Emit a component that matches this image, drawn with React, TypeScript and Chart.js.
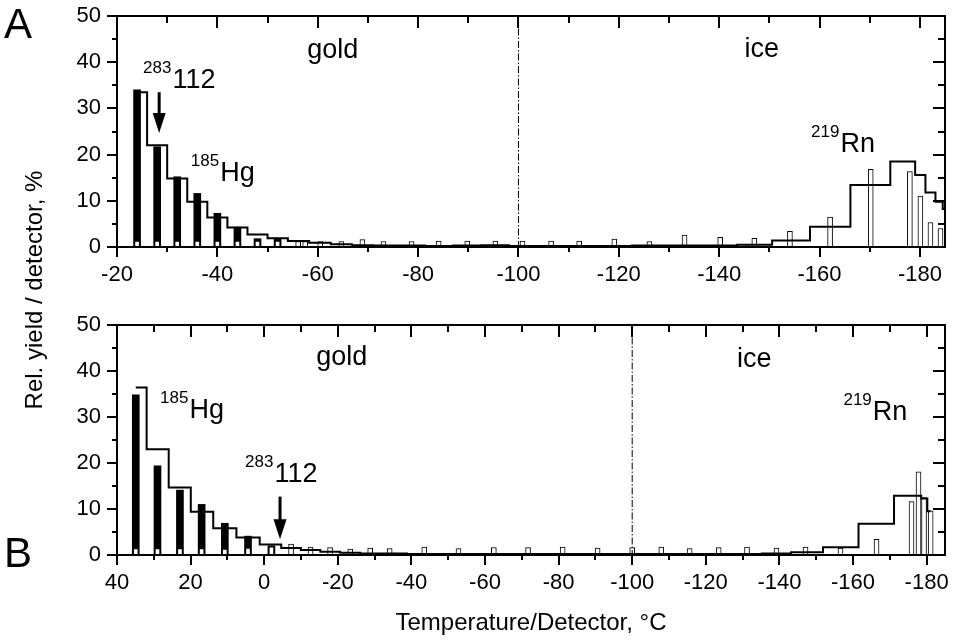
import React, { useEffect, useRef } from "react";
import { Chart, registerables } from "chart.js";

Chart.register(...registerables);

const FONT = '"Liberation Sans", Arial, Helvetica, sans-serif';

// ---------------- Panel A (top) ----------------
const topXTicks = [-20, -40, -60, -80, -100, -120, -140, -160, -180];
const topHgT = [-24, -28, -32, -36, -40, -44, -48, -52];
const topHg = [34, 21.7, 15.2, 11.6, 7.3, 4.3, 1.8, 1.9];
const topRnT = [-24, -28, -32, -36, -40, -44, -48, -52, -56.1, -57.5, -60.5, -64.7, -68.9, -73.1, -78.7, -84.1, -89.8, -95.4, -100.8, -106.5, -112.1, -119.1, -126.1, -133.1, -140.2, -147.0, -154.1, -162.1, -170.2, -178.0, -180.1, -182.1, -184.1];
const topRn = [1.3, 1.3, 1.3, 1.3, 1.3, 1.3, 1.3, 1.3, 1.2, 1.2, 1.2, 1.2, 1.6, 1.2, 1.2, 1.3, 1.3, 1.3, 1.3, 1.3, 1.3, 1.7, 1.2, 2.6, 2.1, 1.9, 3.4, 6.5, 16.8, 16.3, 11.0, 5.3, 4.0];
const topSimT = [-24, -28, -32, -36, -40, -44, -48, -52, -56.1, -60.5, -64.7, -68.9, -73.1, -78.7, -84.1, -89.8, -95.4, -100.8, -106.5, -112.1, -119.1, -126.1, -133.1, -140.2, -147.0, -154.1, -162.1, -170.2, -178.0, -180.1, -182.1, -184.1, -185];
const topSim = [33.5, 22, 14.8, 9.8, 6.4, 4.2, 2.7, 1.9, 1.3, 0.9, 0.6, 0.4, 0.3, 0.3, 0.2, 0.3, 0.4, 0.2, 0.2, 0.2, 0.2, 0.3, 0.3, 0.3, 0.5, 1.4, 4.4, 13.4, 18.5, 15.6, 11.8, 9.8, 8.2];

// ---------------- Panel B (bottom) ----------------
const botXTicks = [40, 20, 0, -20, -40, -60, -80, -100, -120, -140, -160, -180];
const botHgT = [34.9, 29.0, 22.9, 17.0, 10.7, 4.4, -1.96];
const botHg = [34.8, 19.4, 14.1, 11.0, 6.9, 4.1, 2.0];
const botDetT = [34.9, 29.0, 22.9, 17.0, 10.7, 4.4, -1.96, -7.3, -12.6, -17.9, -23.4, -28.8, -34.1, -43.5, -52.8, -62.4, -71.7, -81.1, -90.6, -100, -107.9, -115.6, -123.5, -131.2, -139.2, -147.1, -156.6, -166.4, -175.9, -177.8, -179.3, -181.1];
const botRn = [1.4, 1.4, 1.4, 1.4, 1.3, 1.5, 1.8, 2.4, 1.7, 1.6, 1.3, 1.5, 1.4, 1.7, 1.4, 1.6, 1.6, 1.7, 1.5, 1.6, 1.7, 1.4, 1.6, 1.7, 1.5, 1.7, 1.5, 3.4, 11.6, 18.1, 12.5, 9.6];
const botSim = [36.4, 23.0, 14.7, 9.4, 5.8, 3.8, 2.3, 1.5, 1.1, 0.7, 0.5, 0.3, 0.3, 0.2, 0.2, 0.2, 0.2, 0.2, 0.2, 0.2, 0.2, 0.2, 0.2, 0.2, 0.3, 0.6, 1.7, 6.8, 12.9, 12.9, 12.3, 9.5];

const yTicks = [0, 10, 20, 30, 40, 50];

type Label = { sup?: string; text: string; x: number; y: number; align?: "left" | "center" };
type PanelCfg = {
  xMin: number;
  xMax: number;
  xTicks: number[];
  hgT: number[];
  hg: number[];
  rnT: number[];
  rn: number[];
  simT: number[];
  sim: number[];
  padTop: number;
  padBottom: number;
  labels: Label[];
  arrow: { x: number; y0: number; y1: number };
  panel: { text: string; px: number; py: number };
  titles: boolean;
};

const panelA: PanelCfg = {
  xMin: -185,
  xMax: -20,
  xTicks: topXTicks,
  hgT: topHgT,
  hg: topHg,
  rnT: topRnT,
  rn: topRn,
  simT: topSimT,
  sim: topSim,
  padTop: 16,
  padBottom: 641 - 247 - 40,
  labels: [
    { text: "gold", x: -63, y: 40.9, align: "center" },
    { text: "ice", x: -148.5, y: 41.2, align: "center" },
    { sup: "283", text: "112", x: -25.2, y: 34.4 },
    { sup: "185", text: "Hg", x: -34.7, y: 14.3 },
    { sup: "219", text: "Rn", x: -158.3, y: 20.6 },
  ],
  arrow: { x: -28.4, y0: 33.5, y1: 24.7 },
  panel: { text: "A", px: 4, py: 38 },
  titles: false,
};

const panelB: PanelCfg = {
  xMin: -185,
  xMax: 40,
  xTicks: botXTicks,
  hgT: botHgT,
  hg: botHg,
  rnT: botDetT,
  rn: botRn,
  simT: botDetT,
  sim: botSim,
  padTop: 325,
  padBottom: 641 - 555 - 40,
  labels: [
    { text: "gold", x: -21.1, y: 41.3, align: "center" },
    { text: "ice", x: -133.2, y: 40.9, align: "center" },
    { sup: "185", text: "Hg", x: 28.3, y: 29.8 },
    { sup: "283", text: "112", x: 5.2, y: 15.9 },
    { sup: "219", text: "Rn", x: -157.4, y: 29.3 },
  ],
  arrow: { x: -4.3, y0: 12.7, y1: 3.4 },
  panel: { text: "B", px: 4, py: 567 },
  titles: true,
};

const framePlugin = {
  id: "frame",
  afterDatasetsDraw(chart: any, _args: any, opts: any) {
    const cfg: PanelCfg = opts.cfg;
    const { ctx, chartArea } = chart;
    const { left, right, top, bottom } = chartArea;
    const xs = chart.scales.x;
    const ys = chart.scales.y;
    ctx.save();
    // dash-dot separator gold / ice
    const xd = xs.getPixelForValue(-100);
    ctx.strokeStyle = "#000";
    ctx.lineWidth = 1;
    ctx.setLineDash([7, 2, 1.5, 2]);
    ctx.beginPath();
    ctx.moveTo(xd, top);
    ctx.lineTo(xd, bottom);
    ctx.stroke();
    ctx.setLineDash([]);

    // frame
    ctx.lineWidth = 2;
    ctx.strokeRect(left, top, right - left, bottom - top);

    // x ticks (major every 20 from the labels, minor half way)
    ctx.lineWidth = 2;
    const x0 = cfg.xTicks[0];
    for (let v = x0; v >= cfg.xMin - 0.001; v -= 10) {
      const major = Math.abs((v - x0) % 20) < 0.001;
      const px = Math.round(xs.getPixelForValue(v));
      ctx.beginPath();
      ctx.moveTo(px, bottom);
      ctx.lineTo(px, bottom + (major ? 10 : 5));
      ctx.moveTo(px, top);
      ctx.lineTo(px, top + (major ? 12 : 7));
      ctx.stroke();
    }
    for (let v = 0; v <= 50; v += 5) {
      const major = v % 10 === 0;
      const py = Math.round(ys.getPixelForValue(v));
      ctx.beginPath();
      ctx.moveTo(left, py);
      ctx.lineTo(left - (major ? 10 : 5), py);
      ctx.moveTo(right, py);
      ctx.lineTo(right - (major ? 12 : 7), py);
      ctx.stroke();
    }

    // annotations
    ctx.fillStyle = "#000";
    ctx.textBaseline = "alphabetic";
    for (const l of cfg.labels) {
      const px = xs.getPixelForValue(l.x);
      const py = ys.getPixelForValue(l.y);
      ctx.font = `27px ${FONT}`;
      if (l.sup) {
        ctx.textAlign = "left";
        ctx.font = `17px ${FONT}`;
        ctx.fillText(l.sup, px, py - 15);
        const w = ctx.measureText(l.sup).width;
        ctx.font = `27px ${FONT}`;
        ctx.fillText(l.text, px + w + 1, py);
      } else {
        ctx.textAlign = l.align || "left";
        ctx.fillText(l.text, px, py);
      }
    }

    // arrow
    const ax = xs.getPixelForValue(cfg.arrow.x);
    const ay0 = ys.getPixelForValue(cfg.arrow.y0);
    const ay1 = ys.getPixelForValue(cfg.arrow.y1);
    ctx.lineWidth = 3;
    ctx.beginPath();
    ctx.moveTo(ax, ay0);
    ctx.lineTo(ax, ay1 - 18);
    ctx.stroke();
    ctx.beginPath();
    ctx.moveTo(ax - 6.5, ay1 - 20);
    ctx.lineTo(ax + 6.5, ay1 - 20);
    ctx.lineTo(ax, ay1);
    ctx.closePath();
    ctx.fill();

    // panel letter
    ctx.textAlign = "left";
    ctx.font = `42px ${FONT}`;
    ctx.fillText(cfg.panel.text, cfg.panel.px, cfg.panel.py);

    if (cfg.titles) {
      ctx.font = `24px ${FONT}`;
      ctx.textAlign = "center";
      ctx.fillText("Temperature/Detector, °C", 531, 630);
      ctx.save();
      ctx.translate(42, 290);
      ctx.rotate(-Math.PI / 2);
      ctx.fillText("Rel. yield / detector, %", 0, 0);
      ctx.restore();
    }
    ctx.restore();
  },
};

function buildConfig(cfg: PanelCfg): any {
  const tickFont = { family: FONT, size: 22 };
  return {
    type: "bar",
    data: {
      datasets: [
        {
          type: "line",
          data: cfg.simT.map((x, i) => ({ x, y: cfg.sim[i] })),
          stepped: "middle",
          borderColor: "#000",
          borderWidth: 2,
          pointRadius: 0,
          fill: false,
          order: 0,
        },
        {
          type: "bar",
          data: cfg.rnT.map((x, i) => ({ x, y: cfg.rn[i] })),
          backgroundColor: "#fff",
          borderColor: "#000",
          borderWidth: 1,
          borderSkipped: false,
          barThickness: 5,
          grouped: false,
          order: 1,
        },
        {
          type: "bar",
          data: cfg.hgT.map((x, i) => ({ x, y: cfg.hg[i] })),
          backgroundColor: "#000",
          borderWidth: 0,
          barThickness: 7,
          grouped: false,
          order: 2,
        },
      ],
    },
    options: {
      responsive: false,
      animation: false,
      events: [],
      layout: { padding: { left: 0, right: 8, top: cfg.padTop, bottom: cfg.padBottom } },
      plugins: { legend: { display: false }, tooltip: { enabled: false }, frame: { cfg } },
      scales: {
        x: {
          type: "linear",
          min: cfg.xMin,
          max: cfg.xMax,
          reverse: true,
          offset: false,
          grid: { display: false, drawTicks: false },
          border: { display: false },
          ticks: { color: "#000", font: tickFont, padding: 15, maxRotation: 0, autoSkip: false },
          afterBuildTicks: (s: any) => {
            s.ticks = cfg.xTicks.map((v) => ({ value: v }));
          },
          afterFit: (s: any) => {
            s.height = 40;
            s.paddingLeft = 0;
            s.paddingRight = 0;
          },
        },
        y: {
          type: "linear",
          min: 0,
          max: 50,
          grid: { display: false, drawTicks: false },
          border: { display: false },
          ticks: { color: "#000", font: tickFont, padding: 16 },
          afterBuildTicks: (s: any) => {
            s.ticks = yTicks.map((v) => ({ value: v }));
          },
          afterFit: (s: any) => {
            s.width = 117;
            s.paddingTop = 8;
            s.paddingBottom = 8;
          },
        },
      },
    },
    plugins: [framePlugin],
  };
}

function Panel({ cfg }: { cfg: PanelCfg }) {
  const ref = useRef<HTMLCanvasElement>(null);
  useEffect(() => {
    const chart = new Chart(ref.current as HTMLCanvasElement, buildConfig(cfg));
    return () => chart.destroy();
  }, [cfg]);
  return (
    <canvas
      ref={ref}
      width={953}
      height={641}
      style={{ position: "absolute", left: 0, top: 0, width: 953, height: 641 }}
    />
  );
}

export default function App() {
  return (
    <div style={{ position: "absolute", left: 0, top: 0, width: 953, height: 641, background: "#fff" }}>
      <Panel cfg={panelA} />
      <Panel cfg={panelB} />
    </div>
  );
}
